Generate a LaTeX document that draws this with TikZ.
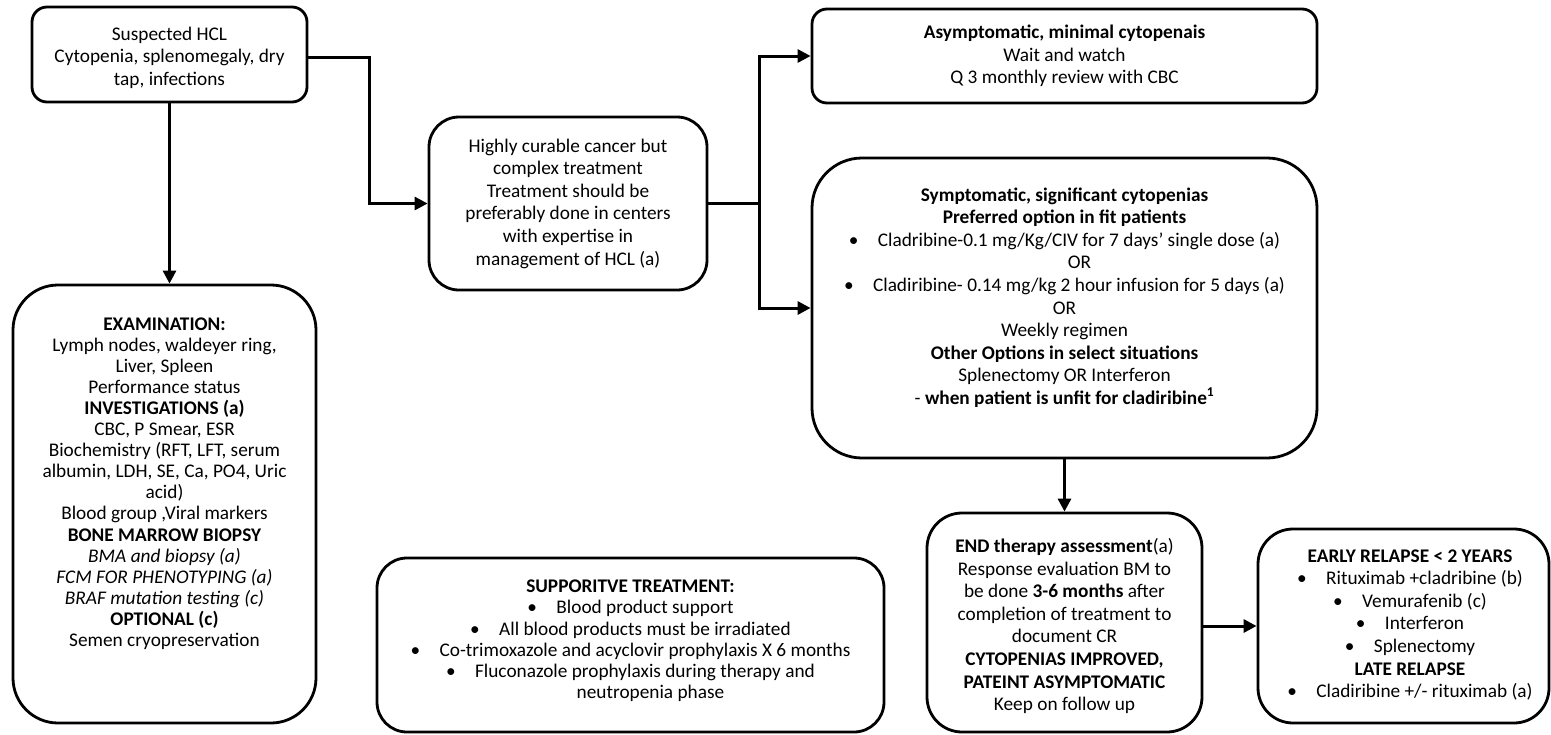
\documentclass[tikz,border=0pt]{standalone}
\usepackage{fontspec}
\setmainfont{Carlito}
\usetikzlibrary{arrows.meta}

% bullet item with a fixed gap before its text
\newcommand{\bul}{\makebox[29pt][l]{\textbullet}}

\begin{document}
\begin{tikzpicture}[x=1pt,y=-1pt,
  box/.style={draw, line width=2.8pt, rounded corners=#1, inner sep=0pt, fill=white},
  txt/.style={align=center, inner sep=0pt, font=\fontsize{19.3}{22.6}\selectfont},
  txtexam/.style={align=center, inner sep=0pt, font=\fontsize{19.3}{21.1}\selectfont},
  txtsup/.style={align=center, inner sep=0pt, font=\fontsize{19.3}{21.2}\selectfont},
  link/.style={line width=3pt},
  arr/.style={line width=3pt, -{Triangle[length=13pt,width=13pt]}}]

\useasboundingbox (0,0) rectangle (1551,734);

% boxes
\node[box=15pt, minimum width=275pt, minimum height=95pt]  (suspect) at (169.5,54.5) {};
\node[box=30pt, minimum width=278pt, minimum height=173pt] (curable) at (568,203.5) {};
\node[box=15pt, minimum width=505pt, minimum height=94pt]  (watch)   at (1064.5,56) {};
\node[box=50pt, minimum width=505pt, minimum height=300pt] (symp)    at (1064.5,308) {};
\node[box=45pt, minimum width=303pt, minimum height=438pt] (exam)    at (164.5,504) {};
\node[box=30pt, minimum width=507pt, minimum height=174pt] (support) at (630.5,645) {};
\node[box=35pt, minimum width=275pt, minimum height=219pt] (endtx)   at (1064.5,622.5) {};
\node[box=35pt, minimum width=291pt, minimum height=194pt] (relapse) at (1403.5,626) {};

% texts
\node[txt] (suspectT) at (169.5,57.5) {Suspected HCL\\Cytopenia, splenomegaly, dry\\tap, infections};

\node[txt] (curableT) at (568,203.5) {Highly curable cancer but\\complex treatment\\Treatment should be\\preferably done in centers\\with expertise in\\management of HCL (a)};

\node[txt] (watchT) at (1064.5,56) {\textbf{Asymptomatic, minimal cytopenais}\\Wait and watch\\Q 3 monthly review with CBC};

\node[txt] (sympT) at (1064.5,297.5) {\textbf{Symptomatic, significant cytopenias}\\
\textbf{Preferred option in fit patients}\\
\bul Cladribine-0.1 mg/Kg/CIV for 7 days’ single dose (a)\\
\hspace*{30pt}OR\\
\bul Cladiribine- 0.14 mg/kg 2 hour infusion for 5 days (a)\\
OR\\
Weekly regimen\\
\textbf{Other Options in select situations}\\
Splenectomy OR Interferon\\
- \textbf{when patient is unfit for cladiribine\textsuperscript{1}}};

\node[txtexam] (examT) at (164.5,483.5) {\textbf{EXAMINATION:}\\
Lymph nodes, waldeyer ring,\\
Liver, Spleen\\
Performance status\\
\textbf{INVESTIGATIONS (a)}\\
CBC, P Smear, ESR\\
Biochemistry (RFT, LFT, serum\\
albumin, LDH, SE, Ca, PO4, Uric\\
acid)\\
Blood group ,Viral markers\\
\textbf{BONE MARROW BIOPSY}\\
\textit{BMA and biopsy (a)}\\
\textit{FCM FOR PHENOTYPING (a)}\\
\textit{BRAF mutation testing (c)}\\
\textbf{OPTIONAL (c)}\\
Semen cryopreservation};

\node[txtsup] (supportT) at (630.5,641) {\textbf{SUPPORITVE TREATMENT:}\\
\bul Blood product support\\
\bul All blood products must be irradiated\\
\bul Co-trimoxazole and acyclovir prophylaxis X 6 months\\
\bul Fluconazole prophylaxis during therapy and\\
\hspace*{40pt}neutropenia phase};

\node[txt] (endtxT) at (1064.5,626) {\textbf{END therapy assessment}(a)\\
Response evaluation BM to\\
be done \textbf{3-6 months} after\\
completion of treatment to\\
document CR\\
\textbf{CYTOPENIAS IMPROVED,}\\
\textbf{PATEINT ASYMPTOMATIC}\\
Keep on follow up};

\node[txt] (relapseT) at (1410,625) {\textbf{EARLY RELAPSE < 2 YEARS}\\
\bul Rituximab +cladribine (b)\\
\bul Vemurafenib (c)\\
\bul Interferon\\
\bul Splenectomy\\
\textbf{LATE RELAPSE}\\
\bul Cladiribine +/- rituximab (a)};

% connectors
\coordinate (bendA) at (369,57);
\coordinate (split) at (759,203.5);
\draw[arr] (suspect.east |- bendA) -- (bendA) |- (curable.west);
\draw[arr] (suspect.south) -- (suspect.south |- exam.north);
\draw[link] (curable.east) -- (split);
\draw[arr] (split) |- (watch.west);
\draw[arr] (split) |- (symp.west);
\draw[arr] (symp.south) -- (endtx.north);
\draw[arr] (endtx.east |- relapse.west) -- (relapse.west);

\end{tikzpicture}
\end{document}
